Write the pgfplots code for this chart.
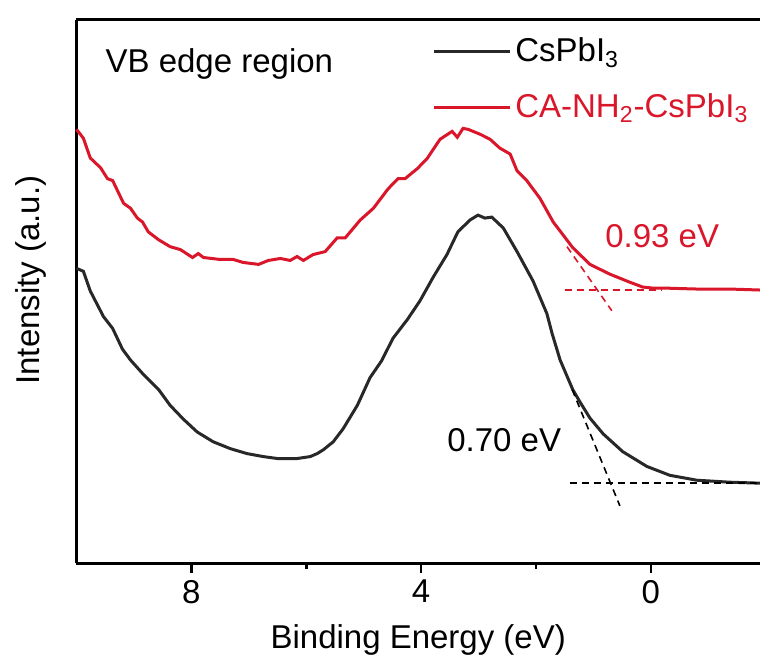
\documentclass[border=0pt]{standalone}
\usepackage{fontspec}
\setmainfont{Liberation Sans}
\usepackage{pgfplots}
\pgfplotsset{compat=1.18}
\definecolor{cred}{RGB}{218,22,43}
\definecolor{cblk}{RGB}{40,40,40}
\begin{document}
\begin{tikzpicture}
\begin{axis}[
  scale only axis, width=341.75pt, height=271.5pt,
  xmin=-1.9, xmax=10, ymin=0, ymax=551, x dir=reverse,
  clip=false,
  axis x line*=bottom, axis y line*=left,
  axis line style={line width=1.5pt, black},
  xtick={0,4,8}, minor xtick={2,6}, ytick=\empty,
  tick align=outside, major tick length=5pt, minor tick length=3pt,
  tick style={line width=1.3pt, black},
  font=\fontsize{16.5}{19.5}\selectfont,
  /pgf/number format/assume math mode=true,
  xlabel={Binding Energy (eV)}, ylabel={Intensity (a.u.)},
  xlabel style={at={(axis description cs:0.5,-0.15654)}, anchor=base},
  ylabel style={at={(axis description cs:-0.0534,0.521)}, anchor=base},
  legend style={draw=none, fill=none, at={(rel axis cs:0.52,0.975)}, anchor=north west,
    inner sep=0pt, row sep=10.5pt, font=\fontsize{16.5}{19.5}\selectfont},
  legend cell align=left,
  legend image code/.code={\draw[#1] (0pt,0pt) -- (38pt,0pt);},
]
\coordinate (bbtl) at (axis description cs:-0.11193,1.03683);
\coordinate (bbbr) at (axis description cs:1,-0.17680);
\draw[black, line width=1.5pt] (axis description cs:0,1) -- (axis description cs:1,1);
\addplot[cblk, line width=1.5pt] coordinates {
(10,299) (9.88,296) (9.76,276) (9.53,250) (9.37,238) (9.20,217) (9.06,206) (8.83,191)
(8.57,176) (8.37,160) (8.14,146) (7.90,133) (7.62,123) (7.32,116) (7.03,111) (6.75,108)
(6.50,106) (6.16,106) (5.93,108) (5.81,111) (5.70,115) (5.53,123) (5.36,136) (5.11,160)
(4.89,188) (4.69,205) (4.49,228) (4.24,247) (4.02,266) (3.79,290) (3.55,313) (3.36,336)
(3.15,348) (3.01,353) (2.89,350) (2.77,351) (2.57,340) (2.33,316) (2.05,286) (1.81,253)
(1.72,233) (1.58,206) (1.36,176) (1.23,163) (1.06,147) (0.83,131) (0.49,113) (0.07,98)
(-0.33,89) (-0.80,84) (-1.37,82) (-1.90,81)};
\addlegendentry{CsPbI\textsubscript{3}}
\addplot[cred, line width=1.5pt] coordinates {
(10,440) (9.88,431) (9.76,411) (9.58,401) (9.46,390) (9.37,388) (9.18,365) (9.06,360)
(8.94,350) (8.85,346) (8.75,336) (8.57,328) (8.37,321) (8.19,318) (7.98,310) (7.88,314)
(7.79,310) (7.50,308) (7.27,308) (7.10,305) (6.83,303) (6.66,307) (6.45,309) (6.28,307)
(6.16,311) (6.05,307) (5.88,313) (5.67,316) (5.46,330) (5.32,330) (5.06,348) (4.83,360)
(4.57,380) (4.40,390) (4.28,390) (4.07,400) (3.90,410) (3.67,430) (3.46,438) (3.37,432)
(3.27,441) (3.18,440) (2.97,435) (2.80,430) (2.63,421) (2.45,415) (2.33,398) (2.16,388)
(1.93,370) (1.70,346) (1.53,333) (1.36,320) (1.06,303) (0.71,293) (0.37,285) (0.14,280)
(-0.03,279) (-0.21,279) (-0.80,278) (-1.37,278) (-1.90,277)};
\addlegendentry{\color{cred}CA-NH\textsubscript{2}-CsPbI\textsubscript{3}}
\addplot[cred, line width=0.8pt, dash pattern=on 3.5pt off 2.5pt, forget plot] coordinates {(1.46,321) (0.68,256)};
\addplot[cred, line width=0.8pt, dash pattern=on 3.5pt off 2.5pt, forget plot] coordinates {(1.50,277) (-0.2,277)};
\addplot[black, line width=0.8pt, dash pattern=on 3.5pt off 2.5pt, forget plot] coordinates {(1.37,176) (0.54,58)};
\addplot[black, line width=0.8pt, dash pattern=on 3.5pt off 2.5pt, forget plot] coordinates {(1.41,81) (-1.9,81)};
\node[anchor=base west, inner sep=0pt] at (axis cs:9.50,498) {VB edge region};
\node[anchor=base west, text=cred, inner sep=0pt] at (axis cs:0.80,320) {0.93 eV};
\node[anchor=base west, inner sep=0pt] at (axis cs:3.55,113) {0.70 eV};
\end{axis}
\pgfresetboundingbox
\path (bbtl) rectangle (bbbr);
\end{tikzpicture}
\end{document}
